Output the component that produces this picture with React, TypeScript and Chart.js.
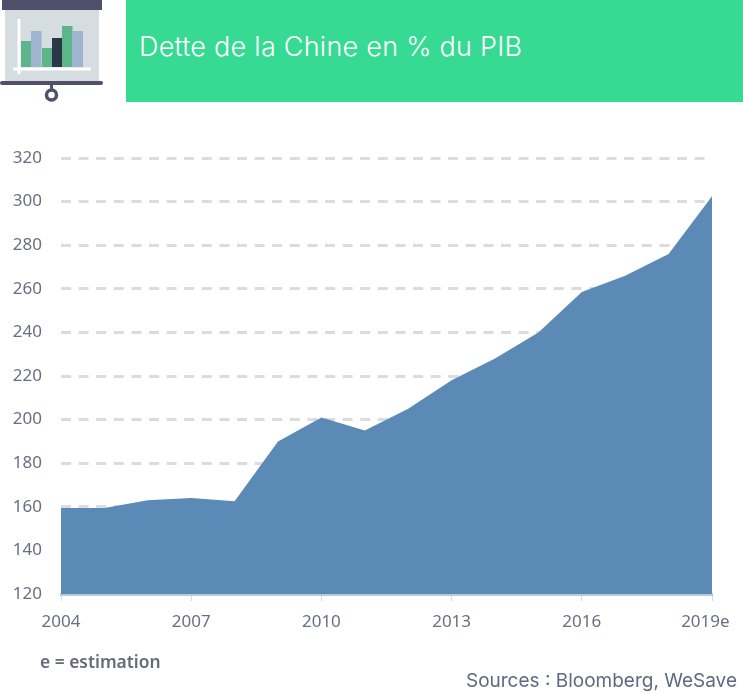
import React, { useEffect, useRef } from "react";
import { Chart, registerables } from "chart.js";

Chart.register(...registerables);

const years = ["2004","2005","2006","2007","2008","2009","2010","2011","2012","2013","2014","2015","2016","2017","2018","2019e"];
const debt = [159.5,159.5,163,164,162.5,190,201,195,205,218,228,240,258.5,266,276,302.5];
const title = "Dette de la Chine en % du PIB";
const note = "e = estimation";
const source = "Sources : Bloomberg, WeSave";

const bars = [
  { x: 21, y: 41, h: 26, c: "#5DB58A" },
  { x: 31, y: 31, h: 36, c: "#9FB5CF" },
  { x: 42, y: 48, h: 19, c: "#5DB58A" },
  { x: 52, y: 38, h: 29, c: "#2B3648" },
  { x: 62, y: 26, h: 41, c: "#5DB58A" },
  { x: 72, y: 31, h: 36, c: "#9FB5CF" },
];

function Icon() {
  return (
    <svg width="110" height="104" style={{ position: "absolute", left: 0, top: 0 }}>
      <rect x="5" y="8" width="94" height="74" fill="#D5DDE1" />
      <rect x="2" y="0" width="100" height="10" fill="#50506A" />
      {bars.map((b, i) => <rect key={i} x={b.x} y={b.y} width={b.x === 72 ? 11 : 10.5} height={b.h} fill={b.c} />)}
      <rect x="17.5" y="19" width="3" height="55" fill="#FFFFFF" />
      <rect x="13" y="67.5" width="78" height="3" fill="#FFFFFF" />
      <rect x="0" y="81" width="103" height="4" rx="2" fill="#50506A" />
      <rect x="50" y="84" width="3" height="6" fill="#50506A" />
      <circle cx="51.5" cy="95" r="5" fill="none" stroke="#50506A" strokeWidth="3.5" />
    </svg>
  );
}

export default function App() {
  const ref = useRef<HTMLCanvasElement>(null);
  useEffect(() => {
    document.body.style.margin = "0";
    const chart = new Chart(ref.current!, {
      type: "line",
      data: {
        labels: years,
        datasets: [{
          data: debt,
          fill: "start",
          backgroundColor: "#5B8AB6",
          borderWidth: 0,
          pointRadius: 0,
          tension: 0,
        }],
      },
      options: {
        animation: false,
        responsive: false,
        layout: { padding: { top: 158, right: 31, left: 0, bottom: 0 } },
        plugins: { legend: { display: false }, tooltip: { enabled: false } },
        scales: {
          x: {
            offset: false,
            afterFit: (s: any) => { s.height = 100; s.paddingRight = 0; s.paddingLeft = 0; },
            border: { color: "#B8C9DE", width: 3 },
            grid: {
              drawOnChartArea: false,
              tickLength: 7,
              tickWidth: 1,
              tickColor: (c: any) => (c.index % 3 === 0 ? "#D5D9E0" : "transparent"),
            },
            ticks: {
              autoSkip: false,
              maxRotation: 0,
              padding: 11,
              color: "#687080",
              font: { family: "'Noto Sans'", size: 17 },
              callback: (_v: any, i: number) =>
                i % 3 === 0 ? (i === years.length - 1 ? years[i] + "   " : years[i]) : "",
            },
          },
          y: {
            min: 120,
            max: 320,
            afterFit: (s: any) => { s.width = 61; },
            border: { display: false, dash: [10, 7.6] },
            grid: {
              color: (c: any) => (c.tick.value === 120 ? "transparent" : "#DCDCDC"),
              lineWidth: 3,
              drawTicks: false,
            },
            ticks: {
              stepSize: 20,
              padding: 19,
              color: "#687080",
              font: { family: "'Noto Sans'", size: 17 },
            },
          },
        },
      },
    } as any);
    return () => chart.destroy();
  }, []);

  return (
    <div style={{ position: "relative", width: 743, height: 694, overflow: "hidden", background: "#fff" }}>
      <canvas ref={ref} width={743} height={694} style={{ position: "absolute", left: 0, top: 0 }} />
      <Icon />
      <div style={{ position: "absolute", left: 126, top: 0, width: 617, height: 102, background: "#36DA92" }} />
      <div style={{ position: "absolute", left: 139, top: 30, color: "#fff", font: "300 27px Inter", letterSpacing: 0.25, whiteSpace: "nowrap" }}>{title}</div>
      <div style={{ position: "absolute", left: 40, top: 649, color: "#666B76", font: "600 17.4px 'Noto Sans'", whiteSpace: "nowrap" }}>{note}</div>
      <div style={{ position: "absolute", right: 6, top: 669, color: "#5F6A80", font: "19px Inter", whiteSpace: "nowrap" }}>{source}</div>
    </div>
  );
}
